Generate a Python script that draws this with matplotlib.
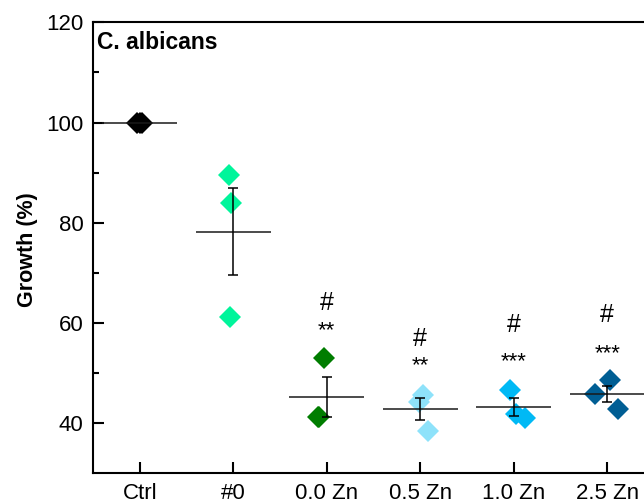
import numpy as np
import matplotlib

matplotlib.use("Agg")
import matplotlib.pyplot as plt

plt.rcParams["font.family"] = ["Liberation Sans", "DejaVu Sans"]

# groups and replicate values (% growth)
groups = ["Ctrl", "#0", "0.0 Zn", "0.5 Zn", "1.0 Zn", "2.5 Zn"]
ctrl = [100.0, 100.0, 100.0]
g_0 = [89.6, 84.0, 61.1]
zn_00 = [53.1, 41.2, 41.3]
zn_05 = [45.7, 44.3, 38.4]
zn_10 = [46.7, 41.9, 41.1]
zn_25 = [45.9, 48.6, 42.9]
values = [ctrl, g_0, zn_00, zn_05, zn_10, zn_25]

# horizontal scatter of replicates within a group
jitter = [
    [-0.025, 0.0, 0.025],
    [-0.05, -0.02, -0.04],
    [-0.03, -0.09, -0.085],
    [0.03, -0.015, 0.08],
    [-0.045, 0.027, 0.115],
    [-0.13, 0.025, 0.12],
]

colors = ["#000000", "#00F59B", "#007D00", "#8EE2FA", "#00B9F5", "#005E94"]

# significance marks
hash_labels = ["", "", "#", "#", "#", "#"]
star_labels = ["", "", "**", "**", "***", "***"]
hash_y = [np.nan, np.nan, 64.0, 56.8, 59.6, 61.6]
star_y = [np.nan, np.nan, 58.4, 51.4, 52.2, 53.8]


def main() -> None:
    fig = plt.figure(figsize=(6.44, 5.04), dpi=100)
    ax = fig.add_axes([93 / 644, 30.7 / 504, 561 / 644, 451 / 504])

    x = np.arange(len(groups))
    for i, vals in enumerate(values):
        v = np.asarray(vals)
        ax.plot(x[i] + np.asarray(jitter[i]), v, "D", color=colors[i],
                markersize=11.5, markeredgewidth=0, zorder=2)

    for i, vals in enumerate(values):
        v = np.asarray(vals)
        mean = v.mean()
        sem = v.std(ddof=1) / np.sqrt(len(v))
        ax.hlines(mean, x[i] - 0.4, x[i] + 0.4, color="#1a1a1a", lw=1.1, zorder=3)
        if sem > 0:
            ax.errorbar(x[i], mean, yerr=sem, fmt="none", ecolor="black",
                        elinewidth=1.1, capsize=3.8, capthick=1.1, zorder=3)

    for i in range(len(groups)):
        if hash_labels[i]:
            ax.text(x[i], hash_y[i], hash_labels[i], ha="center", va="center", fontsize=18)
            ax.text(x[i], star_y[i], star_labels[i], ha="center", va="center", fontsize=16)

    ax.set_xlim(-0.5, 5.5)
    ax.set_ylim(30, 120)
    ax.set_xticks(x)
    ax.set_xticklabels(groups)
    ax.set_yticks([40, 60, 80, 100, 120])
    ax.set_yticks([50, 70, 90, 110], minor=True)
    ax.tick_params(axis="both", which="major", direction="in", length=8, width=1.5,
                   labelsize=16, pad=7)
    ax.tick_params(axis="y", which="minor", direction="in", length=4.5, width=1.5)
    for s in ax.spines.values():
        s.set_linewidth(1.5)

    ax.set_ylabel("Growth (%)", fontsize=15.5, fontweight="bold")
    ax.yaxis.label.set_va("center")
    ax.yaxis.set_label_coords(-65 / 561, 0.495)

    ax.text(4 / 561, 0.955, "C. albicans", transform=ax.transAxes, ha="left", va="center",
            fontsize=16.5, fontweight="bold")

    fig.savefig("out.png", dpi=100)
    plt.close(fig)


if __name__ == "__main__":
    main()
